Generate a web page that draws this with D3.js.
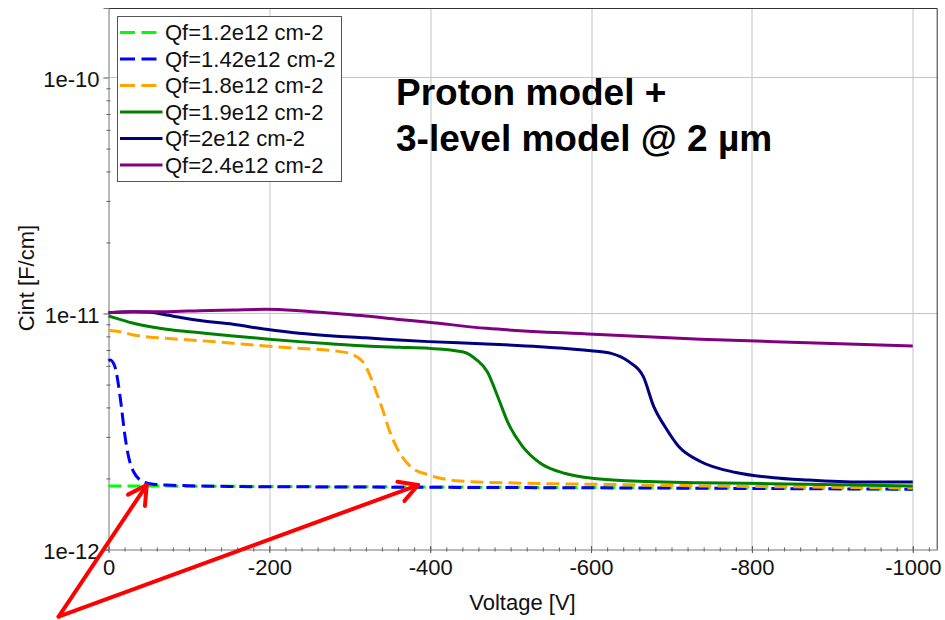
<!DOCTYPE html>
<html>
<head>
<meta charset="utf-8">
<script src="https://cdnjs.cloudflare.com/ajax/libs/d3/7.8.5/d3.min.js"></script>
<style>
body { margin: 0; background: #fff; }
svg { display: block; font-family: "Liberation Sans", Arial, sans-serif; }
</style>
</head>
<body>
<svg width="945" height="620"></svg>
<script>
// legend labels, one per fixed-charge value
var labels = ["Qf=1.2e12 cm-2", "Qf=1.42e12 cm-2", "Qf=1.8e12 cm-2",
              "Qf=1.9e12 cm-2", "Qf=2e12 cm-2", "Qf=2.4e12 cm-2"];

// curves: voltage [V] / Cint [F/cm]
var voltQf120 = [0, -200, -400, -600, -800, -1000];
var cintQf120 = [1.86e-12, 1.85e-12, 1.84e-12, 1.83e-12, 1.82e-12, 1.80e-12];

var voltQf142 = [0, -2, -8, -12, -16, -20, -25, -31, -43, -56, -72, -150, -300, -500, -700, -1000];
var cintQf142 = [6.3e-12, 6.35e-12, 5.95e-12, 5.08e-12, 4.03e-12, 3.11e-12, 2.47e-12, 2.14e-12,
                 1.94e-12, 1.89e-12, 1.876e-12, 1.85e-12, 1.84e-12, 1.83e-12, 1.82e-12, 1.80e-12];

var voltQf180 = [0, -15, -31, -72, -114, -155, -196, -237, -279, -299, -316, -324, -332, -341,
                 -349, -358, -376, -398, -438, -514, -603, -736, -869, -1000];
var cintQf180 = [8.5e-12, 8.37e-12, 8.11e-12, 7.85e-12, 7.67e-12, 7.48e-12, 7.28e-12, 7.12e-12,
                 6.96e-12, 6.78e-12, 6.25e-12, 5.58e-12, 4.74e-12, 3.90e-12, 3.21e-12, 2.72e-12,
                 2.24e-12, 2.07e-12, 1.95e-12, 1.91e-12, 1.89e-12, 1.86e-12, 1.84e-12, 1.82e-12];

var voltQf190 = [0, -10, -31, -72, -114, -155, -196, -237, -279, -320, -361, -398, -440, -458,
                 -471, -484, -497, -515, -537, -568, -604, -671, -736, -869, -1000];
var cintQf190 = [9.76e-12, 9.54e-12, 9.09e-12, 8.57e-12, 8.29e-12, 8.03e-12, 7.80e-12, 7.60e-12,
                 7.43e-12, 7.28e-12, 7.19e-12, 7.12e-12, 6.89e-12, 6.35e-12, 5.67e-12, 4.44e-12,
                 3.43e-12, 2.73e-12, 2.32e-12, 2.10e-12, 2.00e-12, 1.94e-12, 1.92e-12, 1.89e-12, 1.86e-12];

var voltQf200 = [0, -31, -52, -72, -114, -155, -196, -237, -279, -320, -361, -398, -470, -536,
                 -600, -625, -647, -665, -678, -692, -709, -736, -780, -824, -869, -936, -1000];
var cintQf200 = [1.008e-11, 1.018e-11, 1.012e-11, 9.86e-12, 9.33e-12, 9.00e-12, 8.57e-12, 8.24e-12,
                 8.03e-12, 7.89e-12, 7.72e-12, 7.60e-12, 7.43e-12, 7.23e-12, 6.96e-12, 6.78e-12,
                 6.25e-12, 5.40e-12, 4.03e-12, 3.31e-12, 2.73e-12, 2.36e-12, 2.12e-12, 2.02e-12,
                 1.97e-12, 1.93e-12, 1.93e-12];

var voltQf240 = [0, -31, -72, -114, -155, -196, -237, -279, -320, -361, -398, -470, -603, -736, -869, -1000];
var cintQf240 = [1.008e-11, 1.018e-11, 1.018e-11, 1.028e-11, 1.035e-11, 1.042e-11, 1.028e-11, 1.002e-11,
                 9.76e-12, 9.44e-12, 9.18e-12, 8.65e-12, 8.17e-12, 7.78e-12, 7.52e-12, 7.28e-12];

var xTicks = [0, -200, -400, -600, -800, -1000];
var yTicks = [1e-12, 1e-11, 1e-10];
var titleLines = ["Proton model +", "3-level model @ 2 \u00b5m"];

// arrow annotation, in data coordinates (tail below the axis)
var arrowTail = [62, 5.2e-13];
var arrowTips = [[-47.5, 1.876e-12], [-385, 1.876e-12]];

var colors = ["#00ff00", "#0000ff", "#ffa500", "#008000", "#000080", "#800080"];
var dashed = [true, true, true, false, false, false];

var series = [
    { v: voltQf120, c: cintQf120 },
    { v: voltQf142, c: cintQf142 },
    { v: voltQf180, c: cintQf180 },
    { v: voltQf190, c: cintQf190 },
    { v: voltQf200, c: cintQf200 },
    { v: voltQf240, c: cintQf240 }
].map(function (s, i) {
    return { label: labels[i], color: colors[i], dashed: dashed[i],
             points: s.v.map(function (v, k) { return { v: v, c: s.c[k] }; }) };
});

var margin = { top: 8, right: 7.3, bottom: 70.5, left: 108.5 };
var width = 945 - margin.left - margin.right;
var height = 620 - margin.top - margin.bottom;

var svg = d3.select("svg")
    .append("g")
    .attr("transform", "translate(" + margin.left + "," + margin.top + ")");

var x = d3.scaleLinear().domain([0, -1031]).range([0, width]);
var y = d3.scaleLog().domain([1e-12, 1.97e-10]).range([height, 0]);

// grid
svg.append("g").selectAll("line").data(xTicks.slice(1)).enter().append("line")
    .attr("x1", function (d) { return Math.round(x(d)) + 0.5; })
    .attr("x2", function (d) { return Math.round(x(d)) + 0.5; })
    .attr("y1", 0).attr("y2", height)
    .attr("stroke", "#c4c4c4");
svg.append("g").selectAll("line").data(yTicks.slice(1)).enter().append("line")
    .attr("y1", function (d) { return Math.round(y(d)) + 0.5; })
    .attr("y2", function (d) { return Math.round(y(d)) + 0.5; })
    .attr("x1", 0).attr("x2", width)
    .attr("stroke", "#c4c4c4");

// frame top / right
svg.append("path")
    .attr("d", "M0,0.5H" + (width - 0.5) + "V" + height)
    .attr("fill", "none").attr("stroke", "#333");

// axes
var xMinor = d3.range(0, -1031, -20);
var yMinor = [];
[1e-12, 1e-11, 1e-10].forEach(function (dec) {
    for (var m = 2; m <= 9; m++) if (m * dec < 1.97e-10) yMinor.push(m * dec);
});

svg.append("g")
    .attr("transform", "translate(0," + (height - 2) + ")")
    .call(d3.axisBottom(x).tickValues(xMinor).tickSize(4).tickFormat(""))
    .call(function (g) { g.select(".domain").remove(); g.selectAll("line").attr("stroke", "#555"); });
svg.append("g")
    .attr("transform", "translate(0," + (height - 3.5) + ")")
    .call(d3.axisBottom(x).tickValues(xTicks).tickSize(7).tickFormat(""))
    .call(function (g) { g.select(".domain").remove(); g.selectAll("line").attr("stroke", "#555"); });
var xAxis = svg.append("g")
    .attr("class", "axis axis--x")
    .attr("transform", "translate(0," + height + ")")
    .call(d3.axisBottom(x).tickValues(xTicks).tickSize(0).tickFormat(function (d) { return d; }));
xAxis.select(".domain").attr("stroke", "#777");
xAxis.selectAll("text")
    .attr("y", 10)
    .attr("font-size", 22).attr("font-family", "Liberation Sans, Arial, sans-serif")
    .attr("fill", "#111");

svg.append("g")
    .attr("transform", "translate(2,0)")
    .call(d3.axisLeft(y).tickValues(yMinor).tickSize(4).tickFormat(""))
    .call(function (g) { g.select(".domain").remove(); g.selectAll("line").attr("stroke", "#555"); });
var yAxis = svg.append("g")
    .attr("class", "axis axis--y")
    .call(d3.axisLeft(y).tickValues(yTicks).tickSize(5).tickPadding(4)
        .tickFormat(function (d) { return "1e" + Math.round(Math.log10(d)); }));
yAxis.select(".domain").attr("stroke", "#777");
yAxis.selectAll(".tick line").attr("stroke", "#555");
yAxis.selectAll("text")
    .attr("dy", "0.4em")
    .attr("font-size", 22).attr("font-family", "Liberation Sans, Arial, sans-serif")
    .attr("fill", "#111");

// axis titles
svg.append("text")
    .attr("transform", "translate(" + (34 - margin.left) + "," + (278 - margin.top) + ") rotate(-90)")
    .attr("text-anchor", "middle")
    .attr("font-size", 22).attr("fill", "#111")
    .text("Cint [F/cm]");
svg.append("text")
    .attr("x", 522.5 - margin.left).attr("y", 610 - margin.top)
    .attr("text-anchor", "middle")
    .attr("font-size", 22).attr("fill", "#111")
    .text("Voltage [V]");

// curves
var line = d3.line()
    .curve(d3.curveMonotoneX)
    .x(function (d) { return x(d.v); })
    .y(function (d) { return y(d.c); });

svg.append("g").selectAll("path").data(series).enter().append("path")
    .attr("d", function (d) { return line(d.points); })
    .attr("fill", "none")
    .attr("stroke", function (d) { return d.color; })
    .attr("stroke-width", 3)
    .attr("stroke-dasharray", function (d) { return d.dashed ? "13,6" : null; });

// legend
var legend = svg.append("g").attr("transform", "translate(" + (117.5 - margin.left) + "," + (16.5 - margin.top) + ")");
legend.append("rect")
    .attr("width", 224).attr("height", 165)
    .attr("fill", "#fff").attr("stroke", "#555");
var items = legend.selectAll(".item").data(series).enter().append("g")
    .attr("class", "item")
    .attr("transform", function (d, i) { return "translate(0," + (16 + i * 26.5) + ")"; });
items.append("line")
    .attr("x1", 2.5).attr("x2", 45)
    .attr("stroke", function (d) { return d.color; })
    .attr("stroke-width", 3)
    .attr("stroke-dasharray", function (d) { return d.dashed ? "15,6.5" : null; });
items.append("text")
    .attr("x", 47.5).attr("dy", "0.36em")
    .attr("font-size", 22).attr("fill", "#111")
    .text(function (d) { return d.label; });

// title
svg.append("text")
    .attr("x", 396 - margin.left).attr("y", 105 - margin.top)
    .attr("font-size", 37).attr("font-weight", "bold").attr("fill", "#000")
    .selectAll("tspan").data(titleLines).enter().append("tspan")
    .attr("x", 396 - margin.left)
    .attr("dy", function (d, i) { return i ? 45.7 : 0; })
    .text(function (d) { return d; });

// red arrows
var tail = [x(arrowTail[0]), y(arrowTail[1])];
var notes = svg.append("g")
    .attr("fill", "none").attr("stroke", "#ff0000")
    .attr("stroke-width", 4).attr("stroke-linecap", "round").attr("stroke-linejoin", "round");
arrowTips.forEach(function (t) {
    var tip = [x(t[0]), y(t[1])];
    var ang = Math.atan2(tail[1] - tip[1], tail[0] - tip[0]);
    var a = 29 * Math.PI / 180, len = 21;
    var b1 = [tip[0] + len * Math.cos(ang + a), tip[1] + len * Math.sin(ang + a)];
    var b2 = [tip[0] + len * Math.cos(ang - a), tip[1] + len * Math.sin(ang - a)];
    notes.append("path").attr("d", "M" + tail + "L" + tip);
    notes.append("path").attr("d", "M" + b1 + "L" + tip + "L" + b2);
});
</script>
</body>
</html>
